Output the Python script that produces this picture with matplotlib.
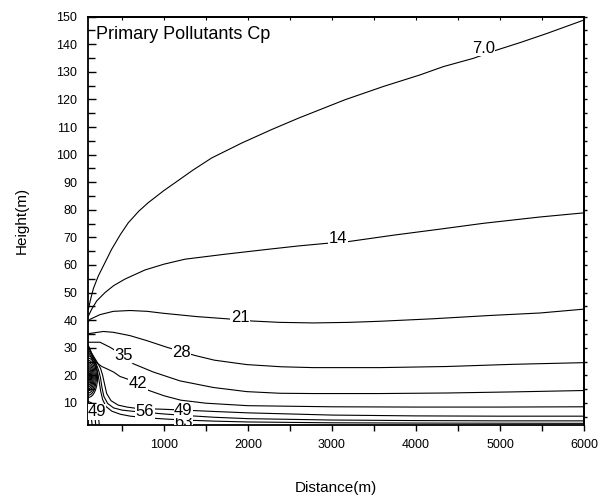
import matplotlib
matplotlib.use('Agg')  # no display
import matplotlib.pyplot as plt
from matplotlib.patches import Ellipse
from matplotlib.ticker import MultipleLocator

plt.rcParams['font.family'] = ['Liberation Sans', 'DejaVu Sans']

# contour lines: distance (m) -> height (m)
x_7 = [100, 130, 160, 218, 300, 377, 480, 575, 700, 813, 1000, 1131, 1350, 1568, 1925,
       2282, 2599, 3155, 3611, 4048, 4325, 4682, 4960, 5238, 5556, 6000]
y_7 = [44, 48, 51.5, 56, 61, 65.7, 71, 75.3, 79.5, 82.6, 87, 89.8, 94.5, 98.8, 104.2,
       109.1, 113.2, 119.9, 124.7, 128.9, 131.9, 134.9, 137.9, 140.6, 143.9, 148.8]

x_14 = [100, 140, 200, 298, 400, 536, 774, 1000, 1250, 1726, 2242, 2599, 2917, 3175,
        3730, 4286, 4801, 5476, 6000]
y_14 = [41.5, 44, 47, 50, 52.5, 54.9, 58.2, 60.3, 62.1, 63.9, 65.7, 66.9, 67.8, 68.4,
        70.8, 73.0, 75.1, 77.4, 78.9]

x_21 = [100, 119, 238, 397, 595, 800, 992, 1389, 1746, 2044, 2381, 2778, 3200, 3571,
        4200, 4881, 5476, 6000]
y_21 = [39.5, 40.3, 42, 43.2, 43.5, 43.2, 42.5, 41.3, 40.5, 39.7, 39.2, 39.0, 39.2, 39.6,
        40.5, 41.7, 42.6, 44.0]

x_28 = [100, 119, 278, 397, 595, 794, 1032, 1210, 1369, 1600, 1984, 2400, 2778, 3571,
        4365, 5159, 6000]
y_28 = [35, 35.2, 35.9, 35.6, 34.4, 32.6, 30.2, 28.6, 27.2, 25.5, 23.9, 23.1, 22.8, 22.8,
        23.2, 24.0, 24.6]

x_35 = [100, 238, 357, 516, 635, 873, 1190, 1587, 1984, 2381, 2778, 3571, 4365, 5159, 6000]
y_35 = [32, 32, 30.2, 27.2, 24.2, 21.2, 18.0, 15.6, 14.1, 13.5, 13.4, 13.4, 13.6, 14.0, 14.5]

x_42 = [100, 120, 150, 200, 260, 318, 400, 476, 580, 690, 813, 1000, 1200, 1500, 2000,
        3000, 4000, 5000, 6000]
y_42 = [30.8, 29.5, 27, 24.5, 23.2, 22.4, 21.2, 19.6, 18.5, 17.1, 14.6, 12.6, 11.0, 9.9,
        9.0, 8.6, 8.5, 8.5, 8.6]

x_49 = [100, 130, 170, 210, 245, 270, 295, 318, 370, 456, 560, 655, 800, 1000, 1230, 1600,
        2000, 3000, 4000, 5000, 6000]
y_49 = [30, 28.5, 26.5, 24.5, 22.5, 20, 16.5, 13.4, 10.8, 9.2, 8.5, 8.1, 7.9, 7.7, 7.4, 6.9,
        6.4, 5.6, 5.3, 5.2, 5.2]

x_56 = [100, 125, 160, 195, 225, 245, 262, 285, 330, 400, 500, 620, 774, 1000, 1230, 1600,
        2000, 3000, 4000, 5000, 6000]
y_56 = [29.2, 28, 26, 24, 21.5, 19, 15.5, 12.3, 9.8, 8.2, 7.4, 7.0, 6.6, 6.0, 5.5, 4.8,
        4.3, 3.8, 3.6, 3.5, 3.5]

x_63 = [100, 120, 150, 180, 210, 228, 245, 270, 310, 380, 480, 600, 800, 1000, 1230, 1600,
        2000, 3000, 4000, 6000]
y_63 = [28.4, 27.3, 25.5, 23.5, 21, 18, 14.5, 11.2, 8.7, 7, 5.9, 5.2, 4.6, 4.2, 3.8, 3.4,
        3.1, 2.8, 2.7, 2.6]

# small arcs near the ground below the source
x_arc1 = [100, 140, 180, 210, 225, 230]
y_arc1 = [10.5, 10, 8.5, 6, 3.5, 2]
x_arc2 = [100, 130, 160, 180, 188]
y_arc2 = [8, 7.6, 6.3, 4.2, 2]
x_arc3 = [100, 120, 138, 145]
y_arc3 = [5.5, 5.1, 3.8, 2]

# closed rings around the source (half width in m, half height in m)
source_x, source_y = 100, 19.5
ring_halfw = [110, 96, 83, 70, 58, 47, 37, 28, 19, 11]
ring_halfh = [7.5, 6.7, 5.9, 5.1, 4.4, 3.7, 3.0, 2.3, 1.6, 0.9]

# contour labels
label_text = ['7.0', '14', '21', '28', '35', '42', '49', '56', '63', '49']
label_x = [4800, 3071, 1905, 1210, 516, 690, 198, 774, 1230, 1230]
label_y = [138.5, 69.5, 41.0, 28.4, 27.2, 17.1, 6.8, 6.8, 2.8, 7.4]

fig = plt.figure(figsize=(6.15, 5.0), dpi=100)
ax = fig.add_axes([0.1437, 0.15, 0.8059, 0.8166])

lines = [(x_7, y_7), (x_14, y_14), (x_21, y_21), (x_28, y_28), (x_35, y_35),
         (x_42, y_42), (x_49, y_49), (x_56, y_56), (x_63, y_63),
         (x_arc1, y_arc1), (x_arc2, y_arc2), (x_arc3, y_arc3)]
for xs, ys in lines:
    ax.plot(xs, ys, color='black', linewidth=0.8, zorder=2)

for hw, hh in zip(ring_halfw, ring_halfh):
    ax.add_patch(Ellipse((source_x, source_y), 2 * hw, 2 * hh, fill=False,
                         edgecolor='black', linewidth=0.8, zorder=2))

for t, lx, ly in zip(label_text, label_x, label_y):
    ax.text(lx, ly, t, fontsize=12, ha='center', va='center', zorder=3, clip_on=True,
            bbox=dict(facecolor='white', edgecolor='none', pad=0.3))

ax.text(0.016, 0.957, 'Primary Pollutants Cp', transform=ax.transAxes, fontsize=13,
        ha='left', va='center', bbox=dict(facecolor='white', edgecolor='none', pad=0.5),
        zorder=4)

ax.set_xlim(100, 6000)
ax.set_ylim(2, 150)
ax.set_xticks([1000, 2000, 3000, 4000, 5000, 6000])
ax.xaxis.set_minor_locator(MultipleLocator(500))
ax.set_yticks(range(10, 151, 10))
ax.yaxis.set_minor_locator(MultipleLocator(5))

ax.tick_params(axis='x', which='both', direction='out', length=4, width=1,
               labelsize=9, pad=6, top=False)
ax.tick_params(axis='y', which='major', direction='in', length=6, width=1,
               labelsize=9, pad=8, right=False)
ax.tick_params(axis='y', which='minor', direction='in', length=5, width=1, right=False)

sec_y = ax.secondary_yaxis('right')
sec_y.yaxis.set_major_locator(MultipleLocator(5))
sec_y.tick_params(direction='out', length=2, width=1, labelright=False)
sec_x = ax.secondary_xaxis('top')
sec_x.xaxis.set_major_locator(MultipleLocator(500))
sec_x.tick_params(direction='in', length=2, width=0.8, labeltop=False)

for s in ax.spines.values():
    s.set_linewidth(1.3)
sec_y.spines['right'].set_linewidth(1.3)
sec_x.spines['top'].set_linewidth(1.3)

ax.set_xlabel('Distance(m)', fontsize=11, labelpad=22)
ax.set_ylabel('Height(m)', fontsize=11, labelpad=20)

fig.savefig('out.png', dpi=100)
